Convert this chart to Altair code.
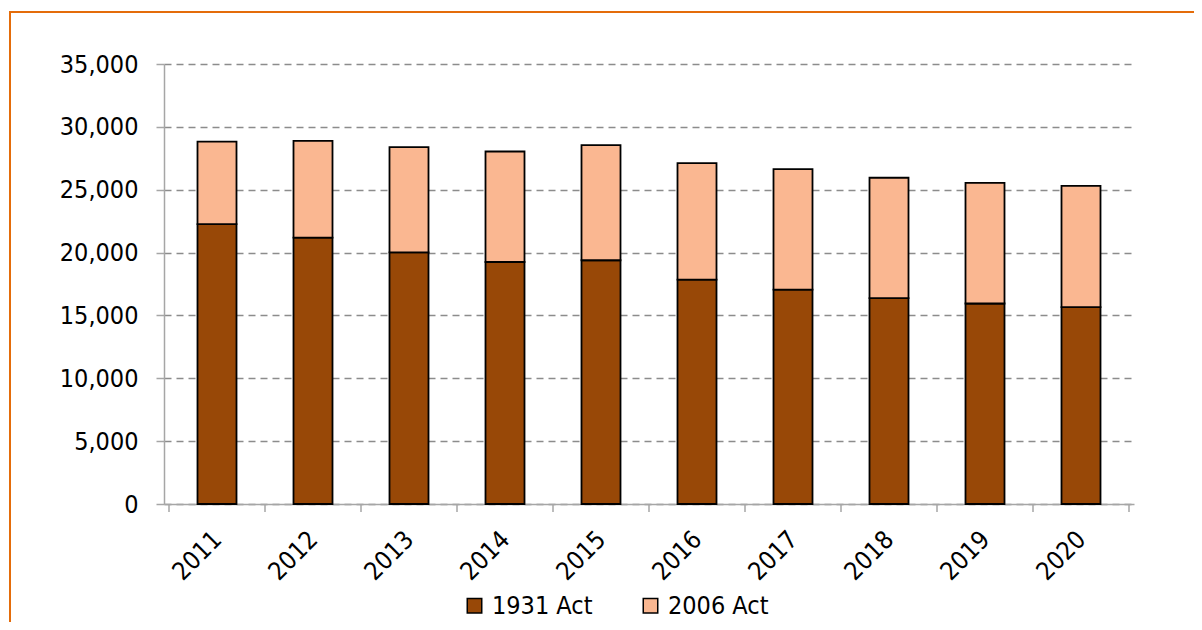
import altair as alt
import pandas as pd

years = [2011, 2012, 2013, 2014, 2015, 2016, 2017, 2018, 2019, 2020]
act_1931 = [22270, 21190, 20020, 19250, 19390, 17850, 17060, 16370, 15950, 15660]
act_2006 = [6560, 7700, 8360, 8790, 9150, 9260, 9570, 9580, 9590, 9640]
series = ["1931 Act", "2006 Act"]
colors = ["#984807", "#FAB791"]
tick_bounds = [2010.5, 2011.5, 2012.5, 2013.5, 2014.5, 2015.5, 2016.5, 2017.5, 2018.5, 2019.5, 2020.5]
y_ticks = [0, 5000, 10000, 15000, 20000, 25000, 30000, 35000]

FONT = "DejaVu Sans Condensed, DejaVu Sans"
FS = 25
W, H = 970, 440

rows = []
for i, y in enumerate(years):
    rows.append({"year": y, "series": series[0], "value": act_1931[i], "ord": 0})
    rows.append({"year": y, "series": series[1], "value": act_2006[i], "ord": 1})
df = pd.DataFrame(rows)

xscale = alt.Scale(domain=[2010.5, 2020.5], nice=False, zero=False)

xaxis = alt.Axis(values=years, format="d", ticks=False, grid=False, title=None,
                 labelAngle=-45, labelAlign="right", labelBaseline="middle",
                 labelPadding=31, labelFontSize=FS, labelFont=FONT, labelColor="black",
                 domainColor="#a6a6a6", domainWidth=1.5)

bars = alt.Chart(df).mark_bar(size=39, stroke="black", strokeWidth=1.8).encode(
    x=alt.X("year:Q", scale=xscale, axis=xaxis),
    y=alt.Y("value:Q", stack="zero", scale=alt.Scale(domain=[0, 35000], nice=False),
            axis=alt.Axis(values=y_ticks, format=",d", title=None, tickSize=8,
                          tickColor="#a6a6a6", tickWidth=1.5, labelPadding=18,
                          labelFontSize=FS, labelFont=FONT, labelColor="black",
                          domainColor="#a6a6a6", domainWidth=1.5,
                          grid=True, gridDash=[7, 5], gridColor="#8c8c8c", gridWidth=1.5)),
    color=alt.Color("series:N", scale=alt.Scale(domain=series, range=colors),
                    legend=alt.Legend(title=None, orient="none", legendX=298, legendY=529,
                                      direction="horizontal", symbolType="square",
                                      symbolSize=210, symbolStrokeColor="black",
                                      symbolStrokeWidth=1.5, labelFontSize=FS, labelFont=FONT,
                                      labelColor="black", columnPadding=45, labelOffset=5)),
    order=alt.Order("ord:Q"),
)

ticks = alt.Chart(pd.DataFrame({"b": tick_bounds})).mark_rule(color="#a6a6a6", strokeWidth=1.5).encode(
    x=alt.X("b:Q", scale=xscale, axis=xaxis),
    y=alt.value(H),
    y2=alt.value(H + 8),
)

frame = alt.Chart(pd.DataFrame({"k": [0]})).mark_rect(
    fillOpacity=0, stroke="#E46C0A", strokeWidth=2
).encode(
    x=alt.value(-154), x2=alt.value(1300), y=alt.value(-52), y2=alt.value(800)
)

chart = alt.layer(frame, bars, ticks).properties(
    width=W, height=H,
    background="white",
    autosize=alt.AutoSizeParams(type="none"),
    padding={"left": 156, "top": 56, "right": 60, "bottom": 118},
).configure_view(strokeWidth=0, stroke="transparent")

chart.save("out.html", embed_options={"renderer": "svg", "actions": False})
